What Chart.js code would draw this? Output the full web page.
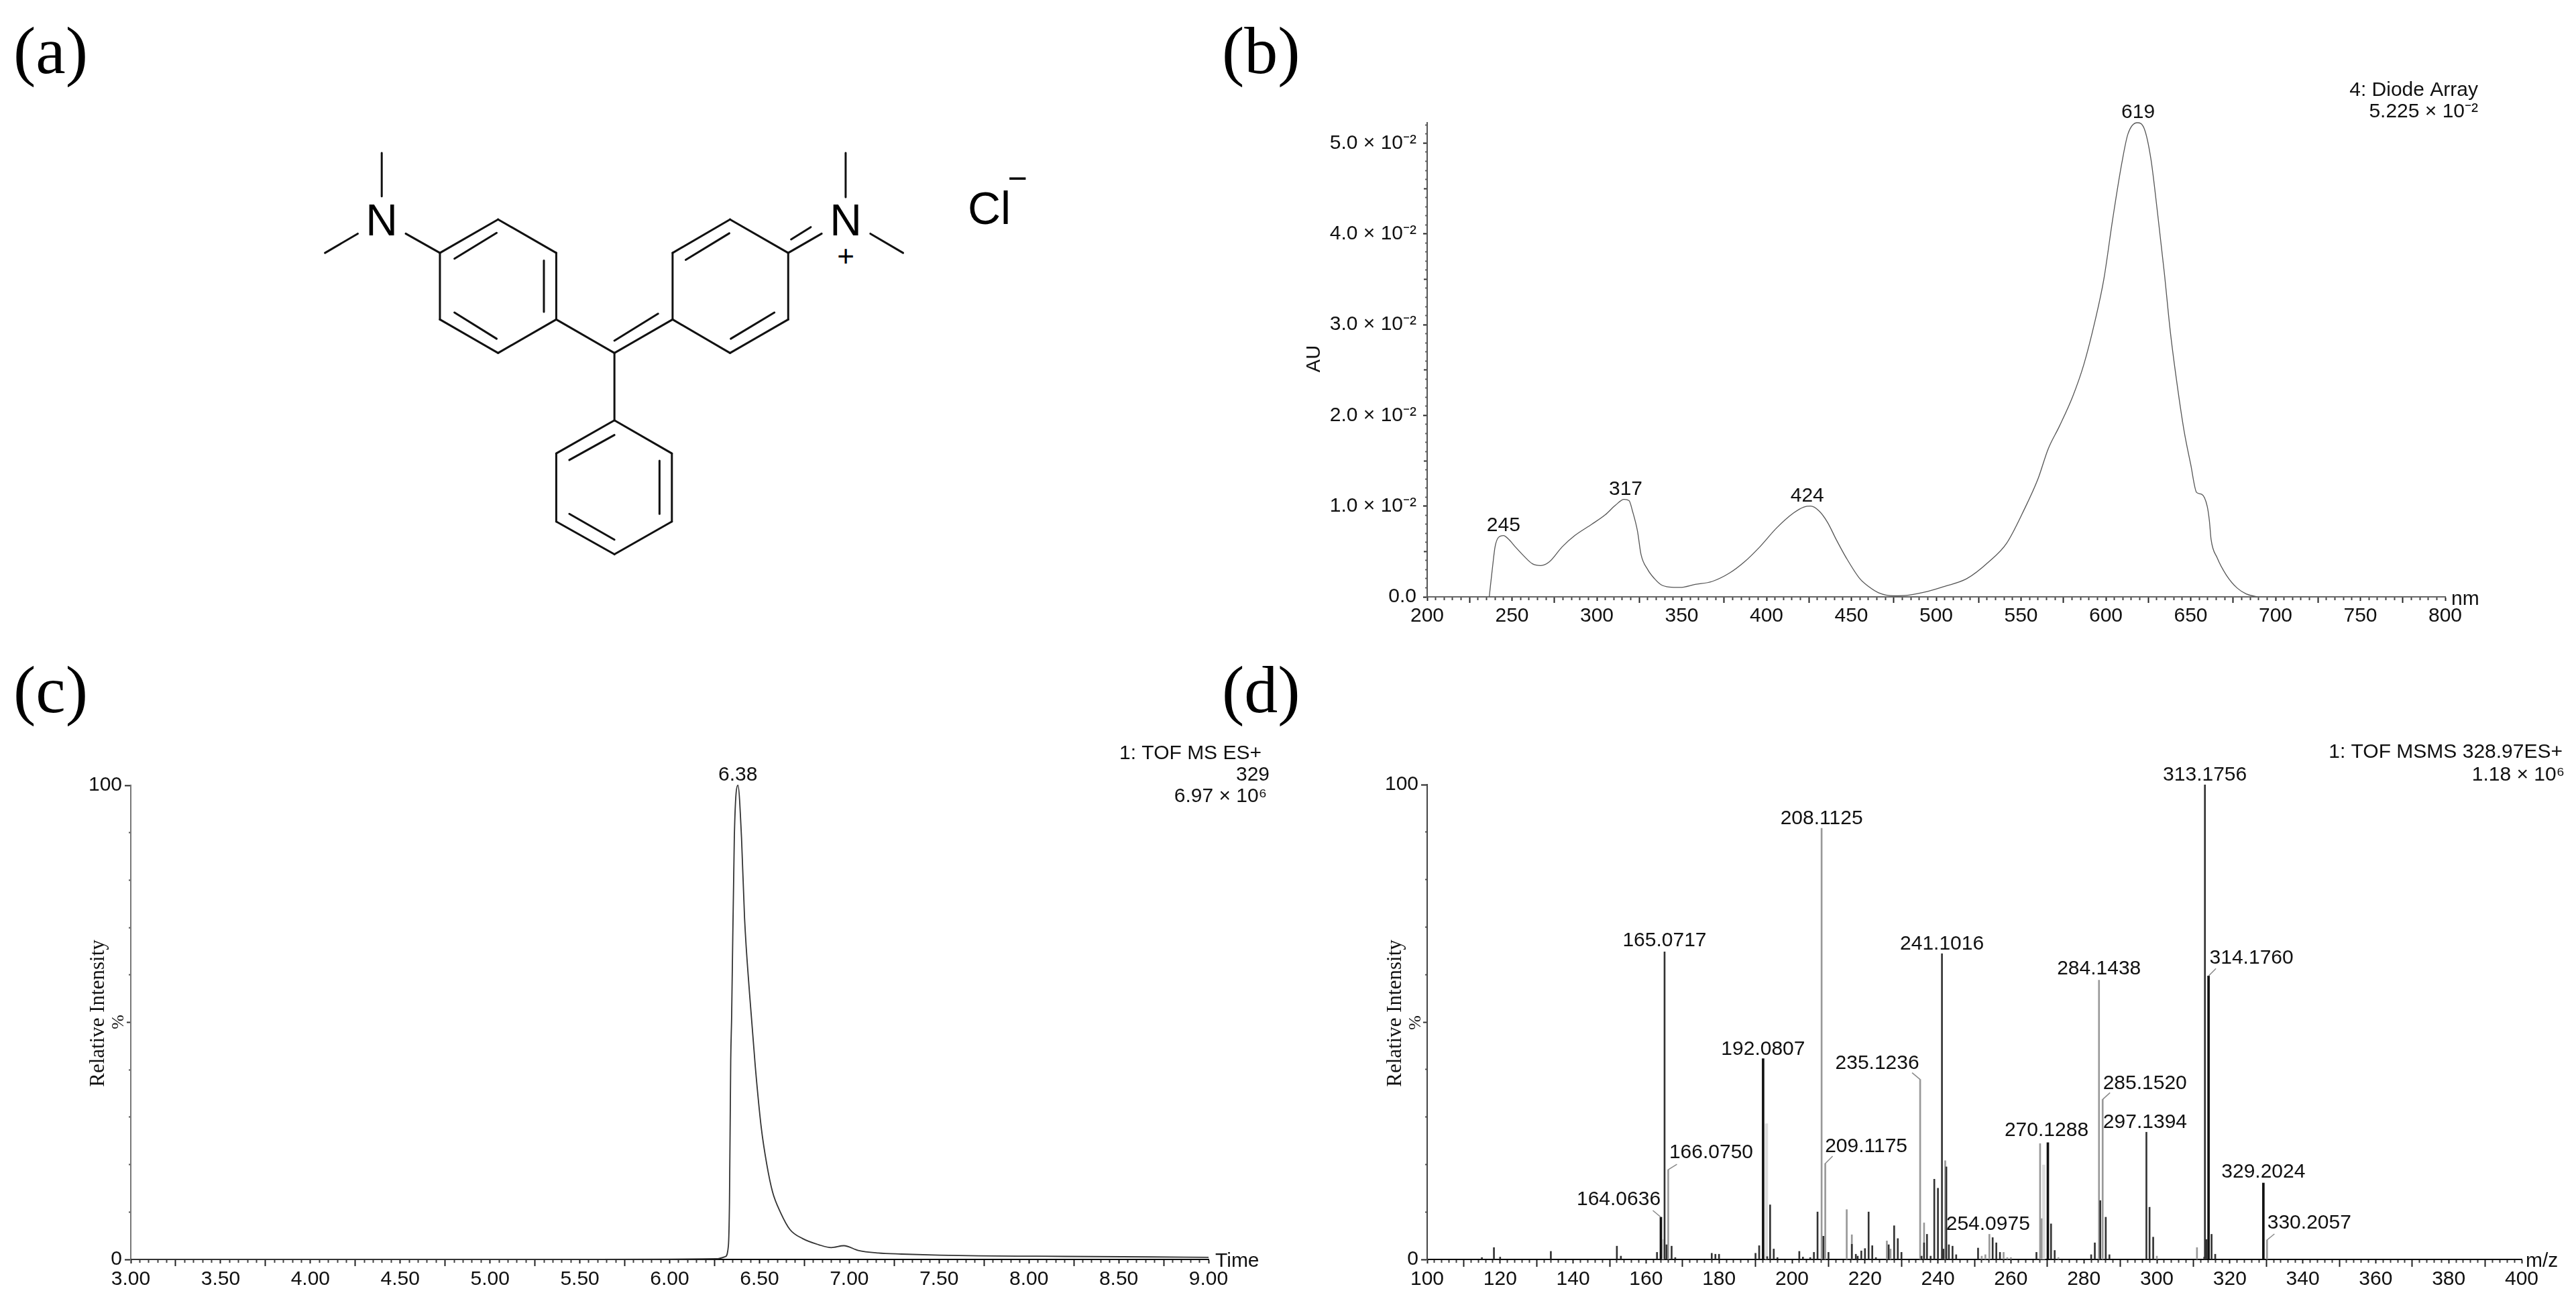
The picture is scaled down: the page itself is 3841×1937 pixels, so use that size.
<!DOCTYPE html>
<html>
<head>
<meta charset="utf-8">
<title>Spectra</title>
<script src="https://cdn.jsdelivr.net/npm/chart.js@4"></script>
<style>
  body { margin: 0; background: #fff; width: 3841px; height: 1937px; position: relative; overflow: hidden; }
  canvas, svg, .tag, .chem { position: absolute; }
  .tag { font: 100px/100px "Liberation Serif", serif; color: #000; }
  .chem { font-family: "Liberation Sans", sans-serif; color: #000; transform: translate(-50%, -50%); line-height: 1; }
</style>
</head>
<body>
<div class="tag" style="left:20px;top:26px">(a)</div>
<div class="tag" style="left:1822px;top:26px">(b)</div>
<div class="tag" style="left:20px;top:979px">(c)</div>
<div class="tag" style="left:1822px;top:979px">(d)</div>

<svg id="mol" style="left:0;top:0" width="1700" height="900"></svg>
<div class="chem" style="left:569px;top:328px;font-size:66px">N</div>
<div class="chem" style="left:1261px;top:328px;font-size:66px">N</div>
<div class="chem" style="left:1261px;top:382px;font-size:44px">+</div>
<div class="chem" style="left:1475px;top:310px;font-size:68px">Cl</div>
<div class="chem" style="left:1517px;top:266px;font-size:50px">−</div>

<canvas id="chartB" style="left:1900px;top:90px" width="1941" height="880"></canvas>
<canvas id="chartC" style="left:100px;top:1090px" width="1800" height="847"></canvas>
<canvas id="chartD" style="left:2040px;top:1090px" width="1801" height="847"></canvas>

<script>
// (b) UV spectrum, values in units of 10^-2 AU
const uvNm = [236.6, 237.4, 238.6, 240, 242, 245, 248, 252, 257, 262, 267, 272, 279.5, 287, 297, 305, 311, 316, 319, 321, 324, 326, 330, 334, 337.6, 342.7, 349, 358, 368, 378, 387, 396, 406, 416, 422, 426, 431, 436, 441, 447, 455, 460, 466, 475, 484, 495, 505, 518, 531, 541.5, 552, 560, 566, 572.6, 580.5, 587, 593.6, 598.8, 604, 609.4, 613, 618.5, 622.6, 626.5, 630.4, 634.4, 638, 642, 646, 650, 653.5, 656.5, 659.7, 661, 662, 665.6, 671, 677.5, 682.7, 689];
const uvAu = [0, 0.14, 0.34, 0.55, 0.655, 0.676, 0.635, 0.55, 0.45, 0.365, 0.345, 0.386, 0.55, 0.676, 0.8, 0.905, 1.01, 1.075, 1.06, 0.946, 0.72, 0.47, 0.3, 0.2, 0.137, 0.108, 0.104, 0.137, 0.17, 0.26, 0.386, 0.55, 0.76, 0.925, 0.99, 1.0, 0.946, 0.82, 0.635, 0.43, 0.2, 0.116, 0.046, 0.012, 0.02, 0.06, 0.116, 0.2, 0.386, 0.59, 0.967, 1.3, 1.63, 1.88, 2.21, 2.56, 3.04, 3.5, 4.16, 4.78, 5.1, 5.225, 5.16, 4.83, 4.24, 3.58, 2.92, 2.34, 1.84, 1.46, 1.15, 1.13, 1.0, 0.84, 0.635, 0.43, 0.24, 0.095, 0.033, 0];
const uvPeaks = [245, 317, 424, 619];
const uvPeakTops = [0.676, 1.075, 1.0, 5.225];

// (c) chromatogram
const ticTime = [3, 4, 5, 6, 6.26, 6.31, 6.327, 6.333, 6.34, 6.345, 6.36, 6.38, 6.40, 6.417, 6.445, 6.477, 6.51, 6.54, 6.573, 6.616, 6.67, 6.74, 6.83, 6.90, 6.97, 7.05, 7.16, 7.29, 7.5, 7.72, 8.04, 8.36, 8.68, 9];
const ticIntensity = [0, 0, 0, 0.05, 0.15, 0.6, 2.9, 12, 42, 51, 89, 100, 89, 72, 56, 40.6, 27.8, 20.2, 14.2, 10, 6.3, 4.4, 3.1, 2.5, 2.9, 1.9, 1.36, 1.13, 0.9, 0.75, 0.68, 0.6, 0.53, 0.45];

// (d) MS/MS sticks, grouped by how dark they print
const mzBold = [164.0636, 192.0807, 270.1288, 314.176, 329.2024];
const intBold = [8.9, 42.3, 24.6, 59.7, 16.1];
const mzDark = [115, 118.3, 120, 133.9, 152, 153.1, 163, 165.0717, 165.6, 167, 168, 178, 179, 180, 190, 191, 193.2, 194, 195, 196, 202, 203, 205, 206, 207, 208.6, 210, 216.4, 217.5, 218, 219, 220, 221, 222, 223, 226.5, 228, 229, 230, 235.5, 236.2, 237, 238, 239, 240, 241.1016, 241.5, 242.3, 243, 244, 245, 251, 255, 256, 257, 267, 271, 272, 282, 283, 284.5, 286, 287, 297.1394, 298, 299, 313, 313.1756, 313.6, 315, 316];
const intDark = [0.4, 2.5, 0.5, 1.7, 2.8, 0.7, 1.5, 64.8, 3.1, 2.8, 0.4, 1.3, 1.1, 1.1, 1.3, 2.9, 0.6, 11.5, 2.2, 0.4, 1.7, 0.5, 0.4, 1.5, 10, 4.9, 1.5, 3.2, 1.1, 0.7, 1.8, 2.3, 10, 2.9, 0.4, 3.1, 7.1, 4.4, 1.5, 0.7, 3.5, 5.3, 0.7, 16.9, 15, 64.4, 2.2, 19.5, 3.1, 2.8, 1, 2.4, 4.6, 3.5, 1.5, 1.5, 7.5, 1.9, 1, 3.5, 12.4, 8.9, 1, 26.8, 11, 4.7, 0.5, 100, 4.2, 5.3, 1.1];
const mzGray = [166.075, 208.1125, 209.1175, 215, 216.4, 226, 227, 235.1236, 236.2, 242, 252, 253, 254.0975, 258, 259, 260, 268, 268.4, 273, 284.1438, 285.152, 300, 311, 330.2057];
const intGray = [18.9, 90.8, 20.2, 10.5, 5.2, 3.9, 2.2, 37.9, 7.7, 20.8, 0.7, 1, 5.3, 1.5, 0.4, 0.4, 24.4, 8.6, 0.4, 58.8, 33.7, 0.7, 2.5, 4.1];
const mzLight = [164.6, 193, 269];
const intLight = [4.2, 28.6, 19.9];

const peakNames = ["164.0636", "165.0717", "166.0750", "192.0807", "208.1125", "209.1175", "235.1236", "241.1016", "254.0975", "270.1288", "284.1438", "285.1520", "297.1394", "313.1756", "314.1760", "329.2024", "330.2057"];
const peakTops = [8.9, 64.8, 18.9, 42.3, 90.8, 20.2, 37.9, 64.4, 5.3, 24.6, 58.8, 33.7, 26.8, 100, 59.7, 16.1, 4.1];

// where each label sits relative to its stick, with an optional leader line
const labelDx = [-63, 0, 64, 0, 0, 61, -64, 0, -2, -2, 0, 63, -2, 0, 64, 0, 63];
const labelDy = [-26, -16, -25, -14, -14, -25, -24, -14, -15, -18, -17, -24, -15, -14, -27, -16, -25];
const leaderDx = [-12, 0, 13, 0, 0, 11, -12, 0, 0, 0, 0, 11, 0, 0, 11, 0, 11];
const leaderDy = [-10, 0, -8, 0, 0, -11, -10, 0, 0, 0, 0, -10, 0, 0, -11, 0, -9];

// (a) structure bonds
const bonds = [
  [525,397,525,510], [447,657,492,607], [558,607,605,657],
  [685,570,765,657], [765,657,765,830], [765,830,685,917], [685,917,605,830], [605,830,605,657], [605,657,685,570],
  [683,605,625,672], [748,677,748,810], [625,812,683,880],
  [765,830,845,917], [845,917,925,830], [845,885,905,815], [845,917,845,1092],
  [1004,570,1084,657], [1084,657,1084,830], [1084,830,1004,917], [1004,917,925,830], [925,830,925,657], [925,657,1004,570],
  [943,675,1003,606], [1005,880,1065,812], [1084,657,1130,607], [1088,622,1115,590],
  [1163,397,1163,512], [1197,607,1242,657],
  [845,1092,924,1178], [924,1178,924,1355], [924,1355,845,1440], [845,1440,765,1355], [765,1355,765,1178], [765,1178,845,1092],
  [845,1130,783,1195], [907,1197,907,1335], [845,1402,783,1335]
];

const mol = document.getElementById("mol");
bonds.forEach(function (b) {
  const l = document.createElementNS("http://www.w3.org/2000/svg", "line");
  l.setAttribute("x1", b[0] * 1.0842);
  l.setAttribute("y1", b[1] * 0.574);
  l.setAttribute("x2", b[2] * 1.0842);
  l.setAttribute("y2", b[3] * 0.574);
  l.setAttribute("stroke", "#111");
  l.setAttribute("stroke-width", "3");
  l.setAttribute("stroke-linecap", "round");
  mol.appendChild(l);
});

const SANS = "Liberation Sans";
const SERIF = "Liberation Serif";
const TEXT_SIZE = 30;
const TEXT_FONT = TEXT_SIZE + "px '" + SANS + "'";
Chart.defaults.font.family = SANS;
Chart.defaults.color = "#111";

function isMultiple(v, step) {
  const r = v / step;
  return Math.abs(r - Math.round(r)) < 1e-6;
}

// tick-only axis that sits on top of the labelled one, so ticks can have several lengths
function tickAxis(min, max, position, step, skipStep, len, color) {
  return {
    type: "linear", position: position, min: min, max: max, offset: false, weight: 0,
    border: { display: false },
    grid: { drawOnChartArea: false, offset: false, tickLength: len, tickWidth: 2, tickColor: color },
    ticks: { display: false, stepSize: step, includeBounds: false },
    afterBuildTicks: function (s) { s.ticks = s.ticks.filter(function (t) { return !isMultiple(t.value, skipStep); }); },
    afterFit: function (s) { if (position === "bottom") s.height = 0; else s.width = 0; }
  };
}

function labelAxis(min, max, position, step, len, pad, fmt, size, borderColor, borderWidth) {
  return {
    type: "linear", position: position, min: min, max: max, offset: false, weight: 1,
    border: { color: borderColor, width: borderWidth },
    grid: { drawOnChartArea: false, offset: false, tickLength: len, tickWidth: 2, tickColor: "#222" },
    ticks: { stepSize: step, padding: pad, callback: fmt, font: { size: TEXT_SIZE }, color: "#111", maxRotation: 0, minRotation: 0, autoSkip: false, includeBounds: false },
    afterFit: function (s) { if (position === "bottom") s.height = size; else s.width = size; }
  };
}

function notesPlugin(box, notes, extra) {
  return {
    id: "notes",
    afterDraw: function (chart) {
      const ctx = chart.ctx;
      ctx.save();
      ctx.fillStyle = "#111";
      ctx.textBaseline = "middle";
      notes.forEach(function (n) {
        ctx.save();
        ctx.font = (n.font || TEXT_FONT);
        ctx.textAlign = n.align || "left";
        ctx.translate(n.x - box.left, n.y - box.top);
        if (n.rot) ctx.rotate(n.rot);
        ctx.fillText(n.text, 0, 0);
        ctx.restore();
      });
      if (extra) extra(chart, ctx);
      ctx.restore();
    }
  };
}

function layoutFor(box, plot) {
  return { autoPadding: false, padding: { top: plot.t - box.top, right: box.left + box.w - plot.r, left: 0, bottom: 0 } };
}

function xy(xs, ys) {
  return xs.map(function (x, i) { return { x: x, y: ys[i] }; });
}

// panel b
const boxB = { left: 1900, top: 90, w: 1941, h: 880 };
const plotB = { l: 2128, r: 3646, t: 183, b: 890 };
new Chart(document.getElementById("chartB"), {
  type: "line",
  data: { datasets: [{ data: xy(uvNm, uvAu), borderColor: "#555", borderWidth: 1.3, pointRadius: 0, cubicInterpolationMode: "monotone", clip: false }] },
  options: {
    responsive: false, animation: false, layout: layoutFor(boxB, plotB),
    plugins: { legend: { display: false }, tooltip: { enabled: false } },
    scales: {
      x: labelAxis(200, 800, "bottom", 50, 6, 5, function (v) { return String(v); }, boxB.top + boxB.h - plotB.b, "#666", 2),
      xMid: tickAxis(200, 800, "bottom", 25, 50, 9, "#222"),
      xMinor: tickAxis(200, 800, "bottom", 5, 25, 5, "#444"),
      y: labelAxis(0, 5.225, "left", 1, 6, 10, function (v) { return v === 0 ? "0.0" : v.toFixed(1) + " × 10⁻²"; }, plotB.l - boxB.left, "#555", 2),
      yMid: tickAxis(0, 5.225, "left", 0.5, 1, 5, "#333"),
      yMinor: tickAxis(0, 5.225, "left", 0.1, 0.5, 3, "#666")
    }
  },
  plugins: [notesPlugin(boxB, [
    { text: "4: Diode Array", x: 3695, y: 135, align: "right" },
    { text: "5.225 × 10⁻²", x: 3695, y: 167, align: "right" },
    { text: "nm", x: 3655, y: 894 },
    { text: "AU", x: 1960, y: 535, align: "center", rot: -Math.PI / 2, font: "29px '" + SANS + "'" }
  ], function (chart, ctx) {
    ctx.textAlign = "center";
    ctx.font = TEXT_FONT;
    uvPeaks.forEach(function (p, i) {
      ctx.fillText(String(p), chart.scales.x.getPixelForValue(p), chart.scales.y.getPixelForValue(uvPeakTops[i]) - 15);
    });
  })]
});

// panel c
const boxC = { left: 100, top: 1090, w: 1800, h: 847 };
const plotC = { l: 195, r: 1802, t: 1171, b: 1878 };
new Chart(document.getElementById("chartC"), {
  type: "line",
  data: { datasets: [{ data: xy(ticTime, ticIntensity), borderColor: "#333", borderWidth: 1.8, pointRadius: 0, cubicInterpolationMode: "monotone", clip: false }] },
  options: {
    responsive: false, animation: false, layout: layoutFor(boxC, plotC),
    plugins: { legend: { display: false }, tooltip: { enabled: false } },
    scales: {
      x: labelAxis(3, 9, "bottom", 0.5, 6, 6, function (v) { return v.toFixed(2); }, boxC.top + boxC.h - plotC.b, "#000", 2),
      xMid: tickAxis(3, 9, "bottom", 0.25, 0.5, 10, "#222"),
      xMinor: tickAxis(3, 9, "bottom", 0.05, 0.25, 5, "#444"),
      y: labelAxis(0, 100, "left", 100, 9, 4, function (v) { return String(v); }, plotC.l - boxC.left, "#777", 2),
      yMid: tickAxis(0, 100, "left", 50, 100, 6, "#333"),
      yMinor: tickAxis(0, 100, "left", 10, 50, 3, "#555")
    }
  },
  plugins: [notesPlugin(boxC, [
    { text: "1: TOF MS ES+", x: 1881, y: 1124, align: "right" },
    { text: "329", x: 1893, y: 1156, align: "right" },
    { text: "6.97 × 10⁶", x: 1889, y: 1188, align: "right" },
    { text: "Time", x: 1812, y: 1881 },
    { text: "Relative Intensity", x: 147, y: 1511, align: "center", rot: -Math.PI / 2, font: "31px '" + SERIF + "'" },
    { text: "%", x: 177, y: 1524, align: "center", rot: -Math.PI / 2, font: "26px '" + SERIF + "'" }
  ], function (chart, ctx) {
    ctx.textAlign = "center";
    ctx.font = TEXT_FONT;
    ctx.fillText("6.38", chart.scales.x.getPixelForValue(6.38), chart.scales.y.getPixelForValue(100) - 15);
  })]
});

// panel d
const boxD = { left: 2040, top: 1090, w: 1801, h: 847 };
const plotD = { l: 2128, r: 3760, t: 1170, b: 1878 };
function stickSet(xs, ys, color, thick) {
  return { data: xy(xs, ys), backgroundColor: color, barThickness: thick, grouped: false, borderWidth: 0 };
}
new Chart(document.getElementById("chartD"), {
  type: "bar",
  data: {
    datasets: [
      stickSet(mzBold, intBold, "#111", 3),
      stickSet(mzDark, intDark, "#333", 2),
      stickSet(mzGray, intGray, "#999", 2),
      stickSet(mzLight, intLight, "#ddd", 4)
    ]
  },
  options: {
    responsive: false, animation: false, layout: layoutFor(boxD, plotD),
    plugins: { legend: { display: false }, tooltip: { enabled: false } },
    scales: {
      x: labelAxis(100, 400, "bottom", 20, 6, 6, function (v) { return String(v); }, boxD.top + boxD.h - plotD.b, "#000", 2),
      xMid: tickAxis(100, 400, "bottom", 10, 20, 11, "#222"),
      xMinor: tickAxis(100, 400, "bottom", 2, 10, 5, "#444"),
      y: labelAxis(0, 100, "left", 100, 9, 4, function (v) { return String(v); }, plotD.l - boxD.left, "#444", 2),
      yMid: tickAxis(0, 100, "left", 50, 100, 6, "#333"),
      yMinor: tickAxis(0, 100, "left", 10, 50, 3, "#555")
    }
  },
  plugins: [notesPlugin(boxD, [
    { text: "1: TOF MSMS 328.97ES+", x: 3821, y: 1122, align: "right" },
    { text: "1.18 × 10⁶", x: 3824, y: 1156, align: "right" },
    { text: "m/z", x: 3766, y: 1881 },
    { text: "Relative Intensity", x: 2081, y: 1511, align: "center", rot: -Math.PI / 2, font: "31px '" + SERIF + "'" },
    { text: "%", x: 2111, y: 1525, align: "center", rot: -Math.PI / 2, font: "26px '" + SERIF + "'" }
  ], function (chart, ctx) {
    ctx.textAlign = "center";
    ctx.font = TEXT_FONT;
    peakNames.forEach(function (name, i) {
      const px = chart.scales.x.getPixelForValue(parseFloat(name));
      const py = chart.scales.y.getPixelForValue(peakTops[i]);
      ctx.fillStyle = "#111";
      ctx.fillText(name, px + labelDx[i], py + labelDy[i]);
      if (leaderDx[i] !== 0) {
        ctx.strokeStyle = "#888";
        ctx.lineWidth = 1.5;
        ctx.beginPath();
        ctx.moveTo(px, py);
        ctx.lineTo(px + leaderDx[i], py + leaderDy[i]);
        ctx.stroke();
      }
    });
  })]
});
</script>
</body>
</html>
